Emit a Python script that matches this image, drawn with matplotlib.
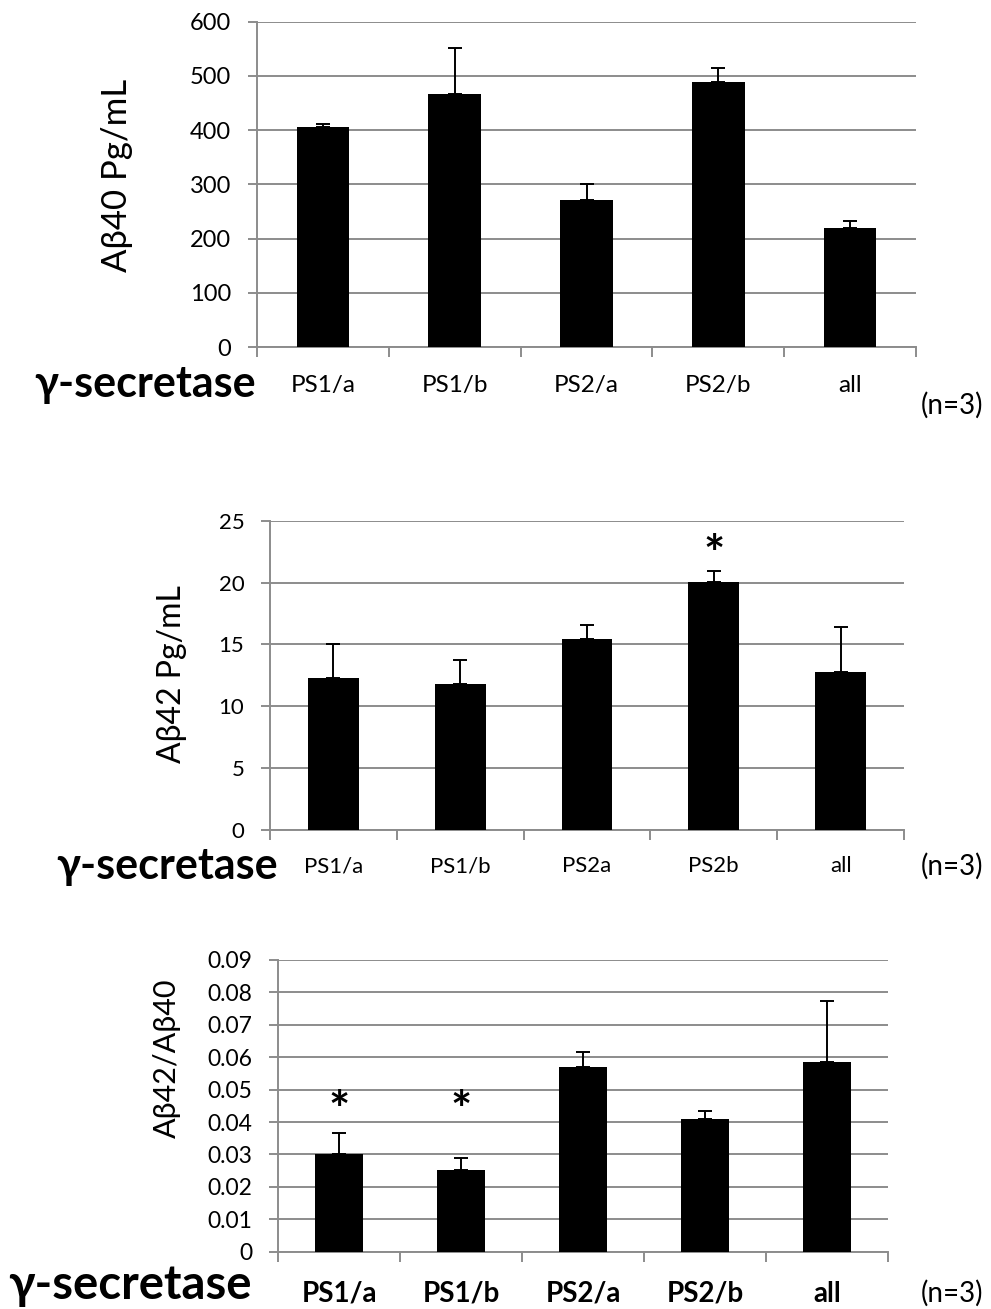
import matplotlib
matplotlib.use("Agg")
import matplotlib.pyplot as plt
import numpy as np

plt.rcParams['font.family'] = ['Lato', 'DejaVu Sans']

# data
groups1 = ['PS1/a', 'PS1/b', 'PS2/a', 'PS2/b', 'all']
ab40 = [405, 466, 271, 489, 220]
ab40_err = [6, 85, 29, 25, 13]

groups2 = ['PS1/a', 'PS1/b', 'PS2a', 'PS2b', 'all']
ab42 = [12.25, 11.8, 15.45, 20.05, 12.8]
ab42_err = [2.8, 1.95, 1.15, 0.85, 3.6]
ab42_stars = ['', '', '', '*', '']

groups3 = ['PS1/a', 'PS1/b', 'PS2/a', 'PS2/b', 'all']
ratio = [0.0300, 0.0253, 0.0570, 0.0408, 0.0584]
ratio_err = [0.0067, 0.0036, 0.0047, 0.0025, 0.0188]
ratio_stars = ['*', '*', '', '', '']

GRID = '#8c8c8c'
W, H = 991, 1309


def px_axes(fig, left, top, right, bottom):
    return fig.add_axes([left / W, 1 - bottom / H, (right - left) / W, (bottom - top) / H])


def bar_panel(ax, labels, vals, errs, ymax, ystep, fmt, tick_fs, lab_fs,
              lab_bold=False, lab_pad=20, stars=None, star_y=None):
    x = np.arange(len(vals))
    ax.bar(x, vals, width=0.4, color='black', zorder=3)
    ax.errorbar(x, vals, yerr=[np.zeros(len(errs)), errs], fmt='none',
                ecolor='black', elinewidth=1.4, capsize=5, capthick=1.4, zorder=4)
    ax.set_xlim(-0.5, len(vals) - 0.5)
    ax.set_ylim(0, ymax)
    ticks = np.arange(0, ymax + ystep / 2, ystep)
    ax.set_yticks(ticks)
    ax.set_yticklabels([fmt(v) for v in ticks])
    ax.yaxis.grid(True, color=GRID, lw=1.4, zorder=0)
    ax.set_axisbelow(True)
    for s in ['top', 'right']:
        ax.spines[s].set_visible(False)
    for s in ['left', 'bottom']:
        ax.spines[s].set_color(GRID)
        ax.spines[s].set_linewidth(1.4)
    ax.tick_params(axis='y', length=6.5, width=1.4, color=GRID, labelsize=tick_fs, pad=12)
    ax.set_xticks(x)
    ax.set_xticklabels(labels, fontsize=lab_fs, fontweight='bold' if lab_bold else 'normal')
    ax.set_xticks(np.arange(-0.5, len(vals)), minor=True)
    ax.tick_params(axis='x', which='major', length=0, pad=lab_pad)
    ax.tick_params(axis='x', which='minor', length=7, width=1.4, color=GRID)
    if stars:
        for xi, st in zip(x, stars):
            if st:
                ax.text(xi, star_y, st, ha='center', va='center', fontsize=36,
                        fontweight='bold')


fig = plt.figure(figsize=(W / 100, H / 100), dpi=100)

ax1 = px_axes(fig, 257, 21.7, 916, 347)
bar_panel(ax1, groups1, ab40, ab40_err, 600, 100, lambda v: f'{v:.0f}', 17, 17.5, lab_pad=20)
ax2 = px_axes(fig, 270, 520.7, 904, 830)
bar_panel(ax2, groups2, ab42, ab42_err, 25, 5, lambda v: f'{v:.0f}', 16, 16, lab_pad=19,
          stars=ab42_stars, star_y=22.1)
ax3 = px_axes(fig, 278, 960, 888, 1251.7)
bar_panel(ax3, groups3, ratio, ratio_err, 0.09, 0.01,
          lambda v: '0' if v < 1e-9 else f'{v:.2f}', 16.5, 20, lab_bold=True, lab_pad=21,
          stars=ratio_stars, star_y=0.0431)

# axis titles
fig.text(117 / W, 1 - 175 / H, 'Aβ40 Pg/mL', rotation=90, ha='center', va='center', fontsize=25)
fig.text(172 / W, 1 - 674 / H, 'Aβ42 Pg/mL', rotation=90, ha='center', va='center', fontsize=23)
fig.text(167 / W, 1 - 1058 / H, 'Aβ42/Aβ40', rotation=90, ha='center', va='center', fontsize=22)

for xc, yc, fs in [(145, 384, 31), (130, 1285, 34), (167, 866, 31)]:
    fig.text(xc / W, 1 - yc / H, 'γ-secretase', ha='center', va='center',
             fontsize=fs, fontweight='bold')

for yc in [405, 866, 1293]:
    fig.text(952 / W, 1 - yc / H, '(n=3)', ha='center', va='center', fontsize=20)

fig.savefig('out.png', dpi=100)
